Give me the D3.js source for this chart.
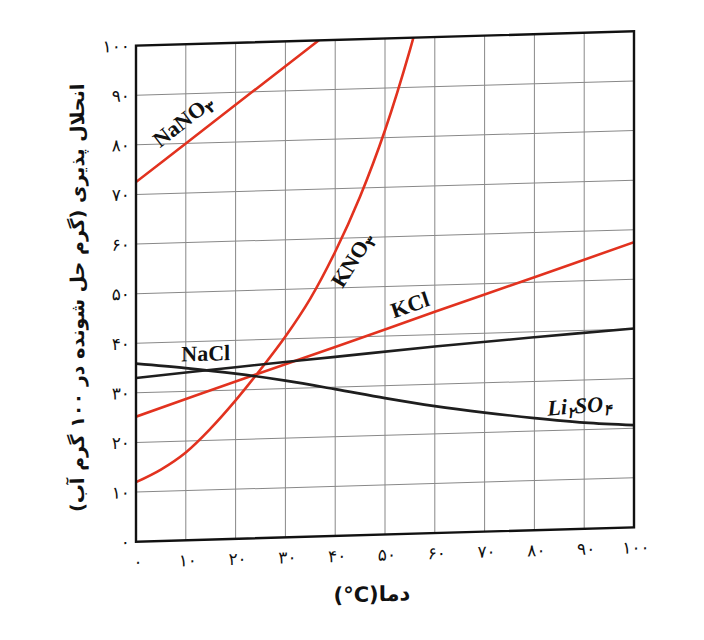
<!DOCTYPE html>
<html><head><meta charset="utf-8">
<script src="https://cdn.jsdelivr.net/npm/d3@7"></script>
<style>body{margin:0;background:#fff}svg{display:block}</style>
</head><body>
<svg id="c" width="704" height="640"></svg>
<script>
// ---- data ----
const xTicks = [0,10,20,30,40,50,60,70,80,90,100];
const yTicks = [0,10,20,30,40,50,60,70,80,90,100];
const faDigits = ["۰","۱","۲","۳","۴","۵","۶","۷","۸","۹"];

const nano3T = [0,10,20,30,40];
const nano3S = [72.5,80,87.5,95,102.5];
const kno3T  = [0,5,10,15,20,25,30,35,40,45,50,55,57];
const kno3S  = [12,14.4,17.7,22.4,27.9,34,40.5,48,57.3,68.3,81.5,97.5,105];
const kclT   = [0,20,40,60,80,100];
const kclS   = [25.2,31.7,38.1,44.6,51,57.5];
const naclT  = [0,20,40,60,80,100];
const naclS  = [33,34.6,36.1,37.6,38.9,40.1];
const li2so4T = [0,10,20,30,40,50,60,70,80,90,100];
const li2so4S = [35.9,34.7,33.3,31.6,29.6,27.5,25.6,24,22.6,21.4,20.6];

const seriesNames = ["NaNO۳","KNO۳","KCl","NaCl","Li۲SO۴"];
const xTitle = "(°C)دما";
const yTitle = "انحلال پذیری (گرم حل شونده در ۱۰۰ گرم آب)";

const toFa = n => String(n).split("").map(c => /[0-9]/.test(c) ? faDigits[+c] : c).join("");

// ---- layout ----
const svg = d3.select("#c");
const x = d3.scaleLinear().domain([0,100]).range([136,634]);
const y = d3.scaleLinear().domain([0,100]).range([534.5,38.5]);
const cx = 385;
const root = svg.append("g")
  .attr("transform", `translate(${cx},0) skewY(-1.65) translate(${-cx},0)`);

root.append("clipPath").attr("id","clip").append("rect")
  .attr("x", x(0)).attr("y", y(100)).attr("width", x(100)-x(0)).attr("height", y(0)-y(100));

// grid
const grid = root.append("g");
grid.selectAll("line.v").data(xTicks.slice(1,-1)).join("line")
  .attr("x1", d=>x(d)).attr("x2", d=>x(d)).attr("y1", y(0)).attr("y2", y(100))
  .attr("stroke","#888").attr("stroke-width",1);
grid.selectAll("line.h").data(yTicks.slice(1,-1)).join("line")
  .attr("y1", d=>y(d)).attr("y2", d=>y(d)).attr("x1", x(0)).attr("x2", x(100))
  .attr("stroke","#888").attr("stroke-width",1);

// curves
const line = d3.line().x(d=>x(d[0])).y(d=>y(d[1])).curve(d3.curveCatmullRom.alpha(0.5));
const zip = (a,b) => a.map((v,i)=>[v,b[i]]);
const curves = [
  {t:nano3T, s:nano3S, c:"#e2321f"},
  {t:kno3T, s:kno3S, c:"#e2321f"},
  {t:kclT, s:kclS, c:"#e2321f"},
  {t:naclT, s:naclS, c:"#1e1e1e"},
  {t:li2so4T, s:li2so4S, c:"#1e1e1e"}
];
root.append("g").attr("clip-path","url(#clip)")
  .selectAll("path").data(curves).join("path")
  .attr("d", d=>line(zip(d.t,d.s)))
  .attr("fill","none").attr("stroke", d=>d.c).attr("stroke-width",2.6)
  .attr("stroke-linejoin","round");

// frame
root.append("rect").attr("x", x(0)).attr("y", y(100))
  .attr("width", x(100)-x(0)).attr("height", y(0)-y(100))
  .attr("fill","none").attr("stroke","#111").attr("stroke-width",2.4);

// tick labels
const fa = "'DejaVu Sans', 'Noto Sans', sans-serif";
root.append("g").selectAll("text").data(yTicks).join("text")
  .attr("x", 130).attr("y", d=>y(d)).attr("dy","0.35em")
  .attr("text-anchor","end").attr("font-family",fa).attr("font-size",17)
  .attr("fill","#111").text(d=>toFa(d));
root.append("g").selectAll("text").data(xTicks).join("text")
  .attr("x", d=>x(d)+2).attr("y", y(0)+26)
  .attr("text-anchor","middle").attr("font-family",fa).attr("font-size",17)
  .attr("fill","#111").text(d=>toFa(d));

// axis titles
root.append("text").attr("x", 372).attr("y", 601)
  .attr("text-anchor","middle").attr("font-family",fa).attr("font-weight","bold")
  .attr("font-size",21).attr("fill","#111").text(xTitle);
root.append("text").attr("transform","translate(84,289) rotate(-90)")
  .attr("text-anchor","middle").attr("font-family",fa).attr("font-weight","bold")
  .attr("font-size",19).attr("fill","#111").style("direction","rtl").text(yTitle);

// series labels
const labelPos = [
  {n:0, x:9.4, y:84.6, r:-37, it:false},
  {n:1, x:43.4, y:55.6, r:-57, it:false},
  {n:2, x:55.0, y:46.2, r:-18, it:false},
  {n:3, x:14.0, y:37.6, r:0, it:false},
  {n:4, x:89.0, y:24.9, r:-3, it:true}
];
const lab = root.append("g");
labelPos.forEach(p => {
  const name = seriesNames[p.n];
  const t = lab.append("text")
    .attr("transform", `translate(${x(p.x)},${y(p.y)}) rotate(${p.r})`)
    .attr("text-anchor","middle").attr("dy","0.35em")
    .attr("font-family","'Liberation Serif','Times New Roman',serif")
    .attr("font-weight","bold").attr("font-size",22).attr("fill","#111")
    .attr("font-style", p.it ? "italic" : "normal");
  name.split(/([۰-۹])/).filter(s=>s.length).forEach(seg => {
    if (/[۰-۹]/.test(seg)) {
      t.append("tspan").attr("font-family",fa).attr("font-size",15)
        .attr("dy",4).text(seg);
      t.append("tspan").attr("dy",-4).text("\u200b");
    } else {
      t.append("tspan").text(seg);
    }
  });
});
</script>
</body></html>
